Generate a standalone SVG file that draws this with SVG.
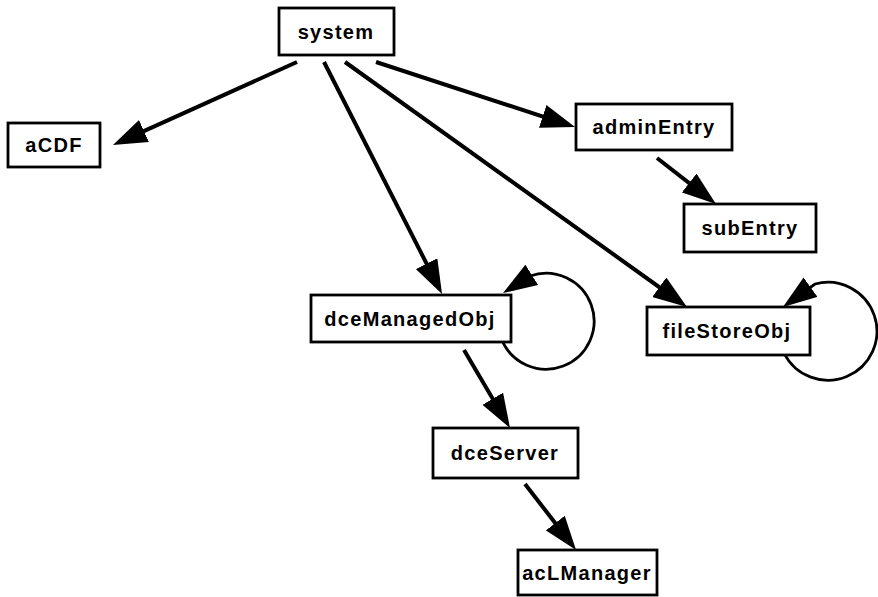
<svg xmlns="http://www.w3.org/2000/svg" width="878" height="597" viewBox="0 0 878 597">
<style>
.box{fill:#fff;stroke:#000;stroke-width:2.8}
.lbl{font-family:"Liberation Sans",Arial,Helvetica,sans-serif;font-weight:bold;font-size:20px;letter-spacing:1.3px;text-anchor:middle;fill:#000}
.edge{fill:none;stroke:#000;stroke-width:4;marker-end:url(#ah)}
.loop{fill:none;stroke:#000;stroke-width:2.8;marker-end:url(#ah)}
</style>
<defs>
<marker id="ah" viewBox="0 0 34 24" refX="22" refY="12" markerWidth="34" markerHeight="24" markerUnits="userSpaceOnUse" orient="auto">
<path d="M0,0 L34,12 L0,24 Z" fill="#000"/>
</marker>
</defs>
<g id="connectors">
<path class="edge" d="M297,62 L123.9,140.1"/>
<path class="edge" d="M324,62 L436.6,283.3"/>
<path class="edge" d="M345,62 L677.2,300"/>
<path class="edge" d="M376,62 L563.6,123.3"/>
<path class="edge" d="M657,158 L706.5,196.6"/>
<path class="edge" d="M464,350 L503.9,417.7"/>
<path class="edge" d="M525,484 L568.7,540.5"/>
<path class="loop" d="M501.5,339 A48,48 0 1 0 530,276 L513.2,286.6"/>
<path class="loop" d="M784,353 A49,49 0 1 0 815,284 L792.7,300"/>
</g>
<g id="system"><rect class="box" x="279" y="8" width="115" height="47"/><text class="lbl" x="336" y="39">system</text></g>
<g id="aCDF"><rect class="box" x="8" y="123" width="92" height="44"/><text class="lbl" x="54" y="152">aCDF</text></g>
<g id="adminEntry"><rect class="box" x="576" y="104" width="156" height="46"/><text class="lbl" x="654" y="134">adminEntry</text></g>
<g id="subEntry"><rect class="box" x="684" y="204" width="132" height="48"/><text class="lbl" x="750" y="235">subEntry</text></g>
<g id="dceManagedObj"><rect class="box" x="311" y="295" width="200" height="47"/><text class="lbl" x="410" y="326">dceManagedObj</text></g>
<g id="fileStoreObj"><rect class="box" x="647" y="307" width="163" height="48"/><text class="lbl" x="727" y="338">fileStoreObj</text></g>
<g id="dceServer"><rect class="box" x="433" y="428" width="145" height="50"/><text class="lbl" x="505" y="460">dceServer</text></g>
<g id="acLManager"><rect class="box" x="518" y="550" width="139" height="45"/><text class="lbl" x="587" y="580">acLManager</text></g>
</svg>
